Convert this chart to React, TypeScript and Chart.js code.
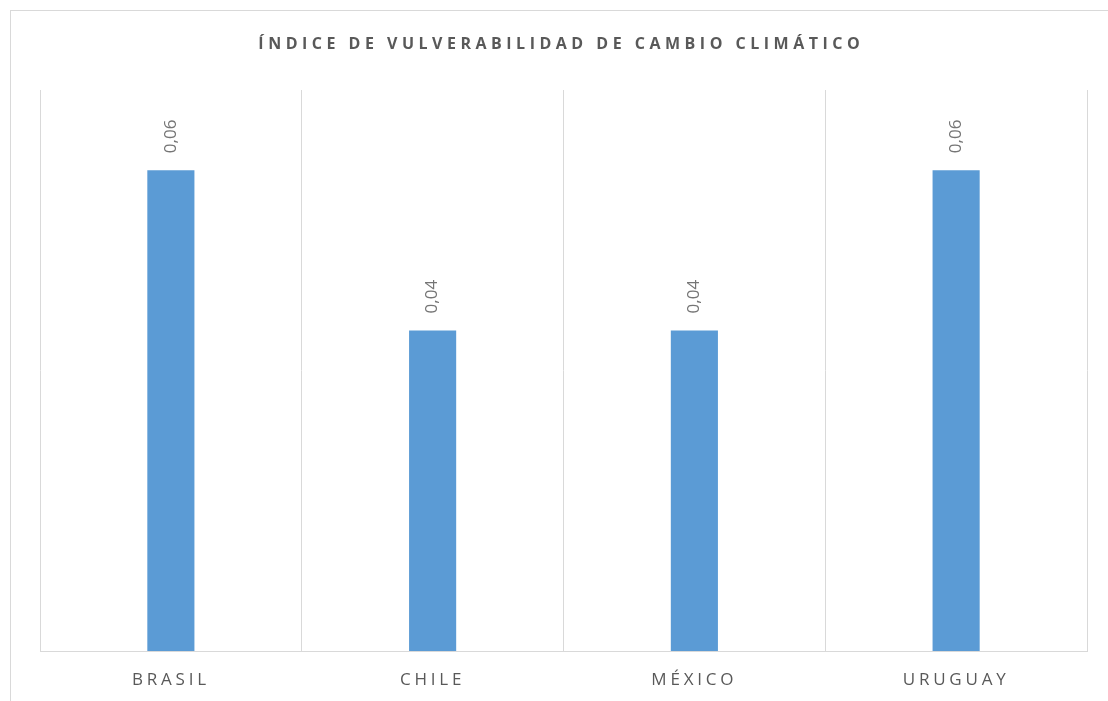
import React, { useEffect, useRef } from "react";
import { Chart, registerables } from "chart.js";

Chart.register(...registerables);

const TITLE = "ÍNDICE DE VULVERABILIDAD DE CAMBIO CLIMÁTICO";
const categories = ["BRASIL", "CHILE", "MÉXICO", "URUGUAY"];
const values = [0.06, 0.04, 0.04, 0.06];
const Y_MAX = 0.07;

const FONT = "'Open Sans', 'DejaVu Sans', sans-serif";
const TITLE_SPACING = 4.5;

const spacingPlugin = {
  id: "spacing",
  beforeDraw(chart: any) {
    chart.ctx.letterSpacing = "3.8px";
  },
  afterDraw(chart: any) {
    chart.ctx.letterSpacing = "0px";
  },
};

const titlePlugin = {
  id: "customTitle",
  afterDraw(chart: any) {
    const ctx = chart.ctx;
    ctx.save();
    ctx.letterSpacing = `${TITLE_SPACING}px`;
    ctx.font = `bold 16px ${FONT}`;
    ctx.fillStyle = "#595959";
    ctx.textAlign = "left";
    ctx.textBaseline = "middle";
    const w = ctx.measureText(TITLE).width - TITLE_SPACING;
    ctx.fillText(TITLE, 559 - w / 2, 44);
    ctx.restore();
  },
};

const valueLabelPlugin = {
  id: "valueLabels",
  afterDatasetsDraw(chart: any) {
    const ctx = chart.ctx;
    const meta = chart.getDatasetMeta(0);
    const data = chart.data.datasets[0].data as number[];
    meta.data.forEach((bar: any, i: number) => {
      const text = data[i].toFixed(2).replace(".", ",");
      ctx.save();
      ctx.letterSpacing = "0px";
      ctx.translate(bar.x, bar.y - 17);
      ctx.rotate(-Math.PI / 2);
      ctx.font = `17px ${FONT}`;
      ctx.fillStyle = "#757575";
      ctx.textAlign = "left";
      ctx.textBaseline = "middle";
      ctx.fillText(text, 0, 0);
      ctx.restore();
    });
  },
};

export default function App() {
  const ref = useRef<HTMLCanvasElement | null>(null);

  useEffect(() => {
    if (!ref.current) return;
    const chart = new Chart(ref.current, {
      type: "bar",
      data: {
        labels: categories,
        datasets: [
          {
            data: values,
            backgroundColor: "#5B9BD5",
            borderWidth: 0,
            barPercentage: 0.18,
            categoryPercentage: 1,
          },
        ],
      },
      options: {
        responsive: false,
        animation: false,
        layout: { padding: { left: 40, right: 21, top: 90, bottom: 0 } },
        plugins: {
          legend: { display: false },
          tooltip: { enabled: false },
          title: { display: false },
        },
        scales: {
          x: {
            offset: true,
            grid: { display: true, offset: true, color: "#d9d9d9", lineWidth: 1, drawTicks: false },
            border: { display: true, color: "#d9d9d9", width: 1 },
            ticks: {
              color: "#595959",
              font: { family: FONT, size: 17 },
              padding: 19,
              maxRotation: 0,
            },
            afterFit: (scale: any) => {
              scale.height = 50;
            },
          },
          y: {
            display: false,
            min: 0,
            max: Y_MAX,
          },
        },
      },
      plugins: [spacingPlugin, valueLabelPlugin, titlePlugin],
    });
    return () => chart.destroy();
  }, []);

  return (
    <div style={{ position: "fixed", left: 0, top: 0, width: 1108, height: 701, overflow: "hidden", background: "#fff" }}>
      <div
        style={{
          position: "absolute",
          left: 10,
          top: 10,
          width: 1200,
          height: 800,
          border: "1px solid #d9d9d9",
          boxSizing: "border-box",
        }}
      />
      <canvas ref={ref} width={1108} height={701} style={{ position: "absolute", left: 0, top: 0 }} />
    </div>
  );
}
